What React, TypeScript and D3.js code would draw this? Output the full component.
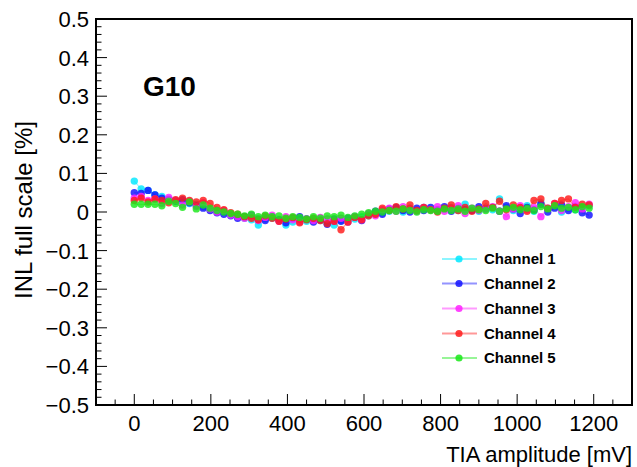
import React from "react";
import * as d3 from "d3";

const W = 637;
const H = 467;

const xTicks = [0, 200, 400, 600, 800, 1000, 1200];
const yTicks = [-0.5, -0.4, -0.3, -0.2, -0.1, 0, 0.1, 0.2, 0.3, 0.4, 0.5];
const channelNames = ["Channel 1", "Channel 2", "Channel 3", "Channel 4", "Channel 5"];
const channelColors = ["#00e8ff", "#1010ff", "#ff20ff", "#ff1a1a", "#18e818"];

// TIA amplitude [mV], step 18 mV
const amplitude = d3.range(0, 1200, 18);

const ch1 = [
  0.080, 0.060, 0.056, 0.045, 0.040, 0.034, 0.030, 0.026, 0.022, 0.020,
  0.014, 0.008, 0.004, 0.000, -0.006, -0.010, -0.016, -0.020, -0.034, -0.018,
  -0.016, -0.022, -0.034, -0.026, -0.020, -0.024, -0.018, -0.022, -0.028, -0.034,
  -0.022, -0.026, -0.018, -0.012, -0.010, -0.006, -0.002, 0.002, 0.006, 0.000,
  0.010, 0.004, 0.012, 0.006, 0.002, 0.008, 0.012, 0.004, 0.020, 0.008,
  0.002, 0.010, 0.006, 0.034, 0.012, 0.004, 0.010, 0.016, 0.002, 0.024,
  0.008, 0.014, 0.000, 0.010, 0.006, 0.012, 0.016,
];
const ch2 = [
  0.050, 0.048, 0.056, 0.044, 0.036, 0.032, 0.028, 0.032, 0.024, 0.016,
  0.010, 0.004, -0.002, -0.006, -0.010, -0.016, -0.012, -0.008, -0.018, -0.022,
  -0.012, -0.020, -0.028, -0.016, -0.012, -0.018, -0.026, -0.020, -0.032, -0.018,
  -0.024, -0.016, -0.012, -0.022, -0.006, 0.002, -0.006, 0.008, 0.012, 0.004,
  0.000, 0.010, 0.004, 0.012, 0.006, 0.014, 0.002, 0.010, 0.006, 0.004,
  0.014, 0.008, 0.012, 0.002, 0.016, 0.008, -0.004, 0.012, 0.006, 0.020,
  0.000, 0.010, 0.018, 0.004, 0.014, -0.002, -0.008,
];
const ch3 = [
  0.036, 0.040, 0.030, 0.034, 0.022, 0.038, 0.030, 0.018, 0.028, 0.014,
  0.024, 0.008, 0.000, 0.004, -0.008, -0.012, -0.016, -0.010, -0.022, -0.014,
  -0.008, -0.024, -0.012, -0.020, -0.026, -0.018, -0.022, -0.014, -0.018, -0.024,
  -0.016, -0.026, -0.012, -0.020, -0.004, -0.010, 0.006, 0.010, 0.002, 0.014,
  0.008, 0.002, 0.012, 0.006, 0.014, 0.002, 0.010, 0.016, -0.004, 0.010,
  0.004, 0.008, 0.014, 0.002, -0.012, 0.008, 0.016, 0.006, 0.012, -0.012,
  0.010, 0.022, 0.004, 0.014, 0.024, 0.008, 0.020,
];
const ch4 = [
  0.030, 0.036, 0.026, 0.034, 0.030, 0.024, 0.032, 0.036, 0.030, 0.026,
  0.030, 0.022, 0.012, 0.006, -0.002, -0.006, -0.012, -0.016, -0.020, -0.010,
  -0.016, -0.024, -0.018, -0.014, -0.028, -0.020, -0.016, -0.022, -0.030, -0.024,
  -0.046, -0.026, -0.014, -0.020, -0.010, -0.006, 0.010, 0.004, 0.014, 0.008,
  0.018, 0.004, 0.012, 0.006, 0.000, 0.010, 0.018, 0.004, 0.012, 0.002,
  0.008, 0.022, 0.012, 0.028, 0.006, 0.018, 0.012, 0.002, 0.030, 0.034,
  0.010, 0.022, 0.030, 0.034, 0.012, 0.020, 0.018,
];
const ch5 = [
  0.020, 0.020, 0.020, 0.020, 0.016, 0.028, 0.022, 0.012, 0.026, 0.008,
  0.018, 0.010, 0.004, 0.000, -0.004, -0.006, -0.010, -0.006, -0.012, -0.008,
  -0.012, -0.010, -0.016, -0.012, -0.014, -0.018, -0.012, -0.016, -0.010, -0.012,
  -0.008, -0.014, -0.010, -0.006, -0.002, 0.002, 0.000, 0.004, 0.002, 0.008,
  0.004, 0.000, 0.006, 0.004, 0.002, 0.008, 0.004, 0.008, 0.002, 0.010,
  0.006, 0.004, 0.010, 0.002, 0.008, 0.012, 0.006, 0.010, 0.004, 0.014,
  0.008, 0.016, 0.010, 0.012, 0.006, 0.014, 0.010,
];
const channels = [ch1, ch2, ch3, ch4, ch5];

const LEFT = 96;
const RIGHT = 632;
const TOP = 19;
const BOTTOM = 405;

export default function App() {
  const x = d3.scaleLinear().domain([-100, 1300]).range([LEFT, RIGHT]);
  const y = d3.scaleLinear().domain([-0.5, 0.5]).range([BOTTOM, TOP]);
  const xMinor = d3.range(-100, 1300 + 1, 50);
  const yMinor = d3.range(-50, 51, 2).map((v) => v / 100);
  const line = d3
    .line<number>()
    .x((_, i) => x(amplitude[i]))
    .y((d) => y(d));
  const font = "'Liberation Sans', Arial, Helvetica, sans-serif";
  const legendRows = [259, 283.5, 308.5, 333.5, 358];

  return (
    <svg
      width={W}
      height={H}
      style={{ position: "absolute", left: 0, top: 0, display: "block", background: "#fff" }}
      fontFamily={font}
    >
      <rect x={0} y={0} width={W} height={H} fill="#fff" />
      {/* data */}
      {channels.map((vals, c) => (
        <g key={c}>
          <path d={line(vals) || ""} fill="none" stroke={channelColors[c]} strokeOpacity={0.4} strokeWidth={1.2} />
          {vals.map((v, i) => (
            <circle key={i} cx={x(amplitude[i])} cy={y(v)} r={3.7} fill={channelColors[c]} fillOpacity={0.82} />
          ))}
        </g>
      ))}
      {/* frame */}
      <rect x={LEFT} y={TOP} width={RIGHT - LEFT} height={BOTTOM - TOP} fill="none" stroke="#000" strokeWidth={2} />
      {/* x ticks */}
      {xMinor.map((v) => {
        const major = xTicks.includes(v);
        return (
          <line key={"xm" + v} x1={x(v)} x2={x(v)} y1={BOTTOM} y2={BOTTOM - (major ? 11 : 5.5)} stroke="#000" strokeWidth={1} />
        );
      })}
      {xTicks.map((v) => (
        <text key={"xl" + v} x={x(v)} y={431} fontSize={22} textAnchor="middle" fill="#000">
          {v}
        </text>
      ))}
      {/* y ticks */}
      {yMinor.map((v, i) => {
        const major = i % 5 === 0;
        return (
          <line key={"ym" + i} x1={LEFT} x2={LEFT + (major ? 11 : 5.5)} y1={y(v)} y2={y(v)} stroke="#000" strokeWidth={1} />
        );
      })}
      {yTicks.map((v) => (
        <text key={"yl" + v} x={89} y={y(v)} dy="0.36em" fontSize={22} textAnchor="end" fill="#000">
          {v === 0 ? "0" : d3.format(".1f")(v).replace("-", "\u2212\u2009")}
        </text>
      ))}
      {/* axis titles */}
      <text x={RIGHT} y={462} fontSize={22} textAnchor="end" fill="#000">
        TIA amplitude [mV]
      </text>
      <text transform={`translate(32, 210) rotate(-90)`} fontSize={24} textAnchor="middle" fill="#000">
        INL full scale [%]
      </text>
      {/* label */}
      <text x={143} y={96} fontSize={28} fontWeight="bold" fill="#000">
        G10
      </text>
      {/* legend */}
      {channelNames.map((name, c) => (
        <g key={name}>
          <line x1={442} x2={477} y1={legendRows[c]} y2={legendRows[c]} stroke={channelColors[c]} strokeOpacity={0.45} strokeWidth={2} />
          <circle cx={459} cy={legendRows[c]} r={3.6} fill={channelColors[c]} fillOpacity={0.85} />
          <text x={484} y={legendRows[c]} dy="0.36em" fontSize={15} fontWeight="bold" fill="#000">
            {name}
          </text>
        </g>
      ))}
    </svg>
  );
}
